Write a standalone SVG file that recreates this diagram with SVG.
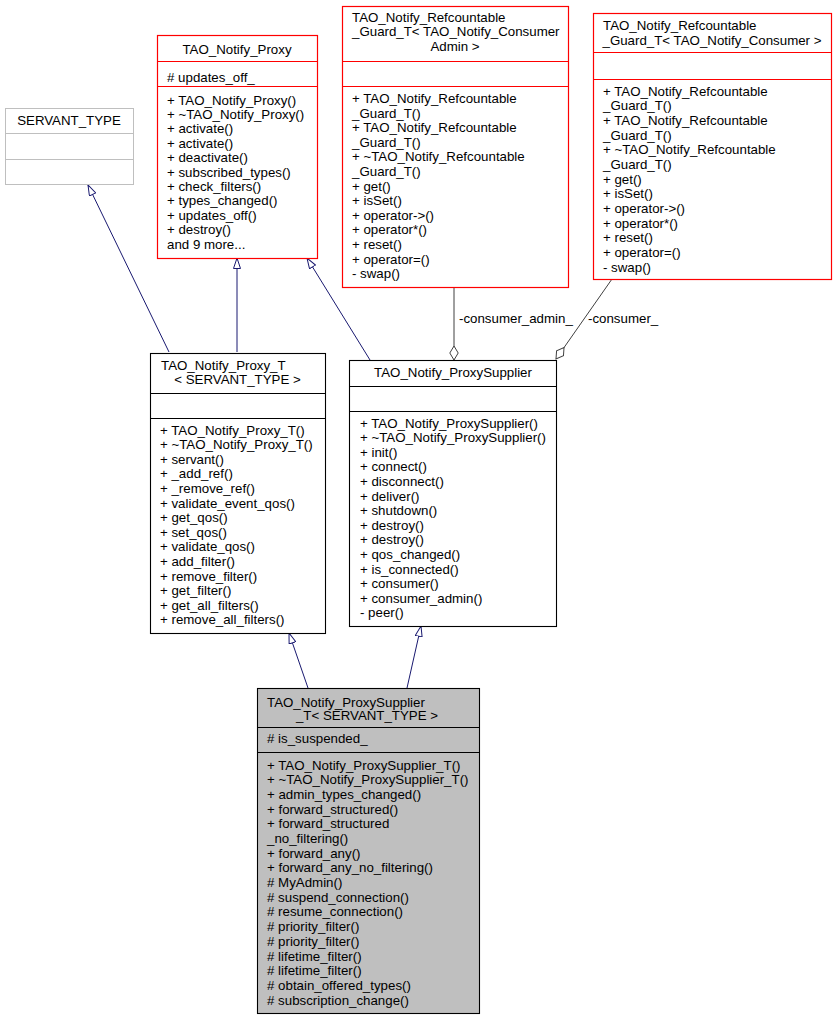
<svg xmlns="http://www.w3.org/2000/svg" width="836" height="1019" viewBox="0 0 836 1019">
<style>
text{font-family:"Liberation Sans",Arial,Helvetica,sans-serif;font-size:13.3px;fill:#000}
.c{text-anchor:middle}
.red{fill:#fff;stroke:#ff0000;stroke-width:1.2}
.blk{fill:#fff;stroke:#000;stroke-width:1.1}
.gry{fill:#fff;stroke:#bfbfbf;stroke-width:1}
.sel{fill:#bfbfbf;stroke:#000;stroke-width:1.1}
.inh{fill:none;stroke:#191970;stroke-width:1}
.use{fill:none;stroke:#404040;stroke-width:1}
</style>
<defs>
<marker id="tri" viewBox="0 0 12 8" refX="11" refY="4" markerWidth="12" markerHeight="8" markerUnits="userSpaceOnUse" orient="auto">
<path d="M0.5,0.5 L11,4 L0.5,7.5 Z" fill="#fff" stroke="#191970" stroke-width="1"/>
</marker>
<marker id="dia" viewBox="0 0 16 10" refX="15" refY="5" markerWidth="16" markerHeight="10" markerUnits="userSpaceOnUse" orient="auto">
<path d="M1,5 L8,0.8 L15,5 L8,9.2 Z" fill="#fff" stroke="#404040" stroke-width="1"/>
</marker>
</defs>
<g id="edges">
<line class="inh" x1="169" y1="352" x2="88" y2="185" marker-end="url(#tri)"/>
<line class="inh" x1="237" y1="352" x2="237" y2="258" marker-end="url(#tri)"/>
<line class="inh" x1="370" y1="360" x2="307" y2="258" marker-end="url(#tri)"/>
<line class="inh" x1="308" y1="688" x2="289" y2="633" marker-end="url(#tri)"/>
<line class="inh" x1="407" y1="688" x2="421" y2="626" marker-end="url(#tri)"/>
<line class="use" x1="454" y1="287" x2="454" y2="360" marker-end="url(#dia)"/>
<line class="use" x1="612" y1="279" x2="556" y2="359" marker-end="url(#dia)"/>
<text x="459" y="323">-consumer_admin_</text>
<text x="588" y="323">-consumer_</text>
</g>
<g id="servant_type">
<rect class="gry" x="5.5" y="108.5" width="128" height="76"/>
<line class="gry" x1="5.5" y1="133.5" x2="133.5" y2="133.5"/>
<line class="gry" x1="5.5" y1="159.5" x2="133.5" y2="159.5"/>
<text class="c" x="69" y="125">SERVANT_TYPE</text>
</g>
<g id="proxy">
<rect class="red" x="157.5" y="35.5" width="160" height="223"/>
<line class="red" x1="157.5" y1="61.5" x2="317.5" y2="61.5"/>
<line class="red" x1="157.5" y1="86.5" x2="317.5" y2="86.5"/>
<text class="c" x="237" y="54">TAO_Notify_Proxy</text>
<text x="167" y="81.5"># updates_off_</text>
<text x="167" y="104.5">+ TAO_Notify_Proxy()</text>
<text x="167" y="118.9">+ ~TAO_Notify_Proxy()</text>
<text x="167" y="133.3">+ activate()</text>
<text x="167" y="147.7">+ activate()</text>
<text x="167" y="162.1">+ deactivate()</text>
<text x="167" y="176.5">+ subscribed_types()</text>
<text x="167" y="190.9">+ check_filters()</text>
<text x="167" y="205.3">+ types_changed()</text>
<text x="167" y="219.7">+ updates_off()</text>
<text x="167" y="234.1">+ destroy()</text>
<text x="167" y="248.5">and 9 more...</text>
</g>
<g id="guard_consumer_admin">
<rect class="red" x="342.5" y="6.5" width="226" height="281"/>
<line class="red" x1="342.5" y1="61.5" x2="568.5" y2="61.5"/>
<line class="red" x1="342.5" y1="86.5" x2="568.5" y2="86.5"/>
<text x="352" y="21.5">TAO_Notify_Refcountable</text>
<text x="352" y="36">_Guard_T&lt; TAO_Notify_Consumer</text>
<text class="c" x="455" y="50.5">Admin &gt;</text>
<text x="352" y="103">+ TAO_Notify_Refcountable</text>
<text x="352" y="117.6">_Guard_T()</text>
<text x="352" y="132.2">+ TAO_Notify_Refcountable</text>
<text x="352" y="146.8">_Guard_T()</text>
<text x="352" y="161.4">+ ~TAO_Notify_Refcountable</text>
<text x="352" y="176">_Guard_T()</text>
<text x="352" y="190.6">+ get()</text>
<text x="352" y="205.2">+ isSet()</text>
<text x="352" y="219.8">+ operator-&gt;()</text>
<text x="352" y="234.4">+ operator*()</text>
<text x="352" y="249">+ reset()</text>
<text x="352" y="263.6">+ operator=()</text>
<text x="352" y="278.2">- swap()</text>
</g>
<g id="guard_consumer">
<rect class="red" x="593.5" y="13.5" width="238" height="266"/>
<line class="red" x1="593.5" y1="52.5" x2="831.5" y2="52.5"/>
<line class="red" x1="593.5" y1="79.5" x2="831.5" y2="79.5"/>
<text x="603" y="29.5">TAO_Notify_Refcountable</text>
<text class="c" x="712" y="44.5">_Guard_T&lt; TAO_Notify_Consumer &gt;</text>
<text x="603" y="95.5">+ TAO_Notify_Refcountable</text>
<text x="603" y="110.2">_Guard_T()</text>
<text x="603" y="124.8">+ TAO_Notify_Refcountable</text>
<text x="603" y="139.5">_Guard_T()</text>
<text x="603" y="154.2">+ ~TAO_Notify_Refcountable</text>
<text x="603" y="168.8">_Guard_T()</text>
<text x="603" y="183.5">+ get()</text>
<text x="603" y="198.2">+ isSet()</text>
<text x="603" y="212.8">+ operator-&gt;()</text>
<text x="603" y="227.5">+ operator*()</text>
<text x="603" y="242.2">+ reset()</text>
<text x="603" y="256.8">+ operator=()</text>
<text x="603" y="271.5">- swap()</text>
</g>
<g id="proxy_t">
<rect class="blk" x="150.5" y="353.5" width="175" height="280"/>
<line class="blk" x1="150.5" y1="393.5" x2="325.5" y2="393.5"/>
<line class="blk" x1="150.5" y1="418.5" x2="325.5" y2="418.5"/>
<text x="161" y="369.5">TAO_Notify_Proxy_T</text>
<text class="c" x="237.5" y="384">&lt; SERVANT_TYPE &gt;</text>
<text x="160" y="434.5">+ TAO_Notify_Proxy_T()</text>
<text x="160" y="449.1">+ ~TAO_Notify_Proxy_T()</text>
<text x="160" y="463.7">+ servant()</text>
<text x="160" y="478.3">+ _add_ref()</text>
<text x="160" y="492.9">+ _remove_ref()</text>
<text x="160" y="507.5">+ validate_event_qos()</text>
<text x="160" y="522.1">+ get_qos()</text>
<text x="160" y="536.7">+ set_qos()</text>
<text x="160" y="551.3">+ validate_qos()</text>
<text x="160" y="565.9">+ add_filter()</text>
<text x="160" y="580.5">+ remove_filter()</text>
<text x="160" y="595.1">+ get_filter()</text>
<text x="160" y="609.7">+ get_all_filters()</text>
<text x="160" y="624.3">+ remove_all_filters()</text>
</g>
<g id="proxy_supplier">
<rect class="blk" x="349.5" y="360.5" width="207" height="266"/>
<line class="blk" x1="349.5" y1="386.5" x2="556.5" y2="386.5"/>
<line class="blk" x1="349.5" y1="411.5" x2="556.5" y2="411.5"/>
<text class="c" x="453" y="377">TAO_Notify_ProxySupplier</text>
<text x="360" y="427.5">+ TAO_Notify_ProxySupplier()</text>
<text x="360" y="442.1">+ ~TAO_Notify_ProxySupplier()</text>
<text x="360" y="456.7">+ init()</text>
<text x="360" y="471.3">+ connect()</text>
<text x="360" y="485.9">+ disconnect()</text>
<text x="360" y="500.5">+ deliver()</text>
<text x="360" y="515.1">+ shutdown()</text>
<text x="360" y="529.7">+ destroy()</text>
<text x="360" y="544.3">+ destroy()</text>
<text x="360" y="558.9">+ qos_changed()</text>
<text x="360" y="573.5">+ is_connected()</text>
<text x="360" y="588.1">+ consumer()</text>
<text x="360" y="602.7">+ consumer_admin()</text>
<text x="360" y="617.3">- peer()</text>
</g>
<g id="proxy_supplier_t">
<rect class="sel" x="257.5" y="688.5" width="222" height="325"/>
<line class="blk" x1="257.5" y1="727.5" x2="479.5" y2="727.5"/>
<line class="blk" x1="257.5" y1="752.5" x2="479.5" y2="752.5"/>
<text x="267" y="706.5">TAO_Notify_ProxySupplier</text>
<text class="c" x="367" y="720">_T&lt; SERVANT_TYPE &gt;</text>
<text x="267" y="742.5"># is_suspended_</text>
<text x="267" y="769.5">+ TAO_Notify_ProxySupplier_T()</text>
<text x="267" y="784.2">+ ~TAO_Notify_ProxySupplier_T()</text>
<text x="267" y="798.9">+ admin_types_changed()</text>
<text x="267" y="813.6">+ forward_structured()</text>
<text x="267" y="828.3">+ forward_structured</text>
<text x="267" y="843">_no_filtering()</text>
<text x="267" y="857.6">+ forward_any()</text>
<text x="267" y="872.3">+ forward_any_no_filtering()</text>
<text x="267" y="887"># MyAdmin()</text>
<text x="267" y="901.7"># suspend_connection()</text>
<text x="267" y="916.4"># resume_connection()</text>
<text x="267" y="931.1"># priority_filter()</text>
<text x="267" y="945.8"># priority_filter()</text>
<text x="267" y="960.5"># lifetime_filter()</text>
<text x="267" y="975.2"># lifetime_filter()</text>
<text x="267" y="989.9"># obtain_offered_types()</text>
<text x="267" y="1004.5"># subscription_change()</text>
</g>
</svg>
